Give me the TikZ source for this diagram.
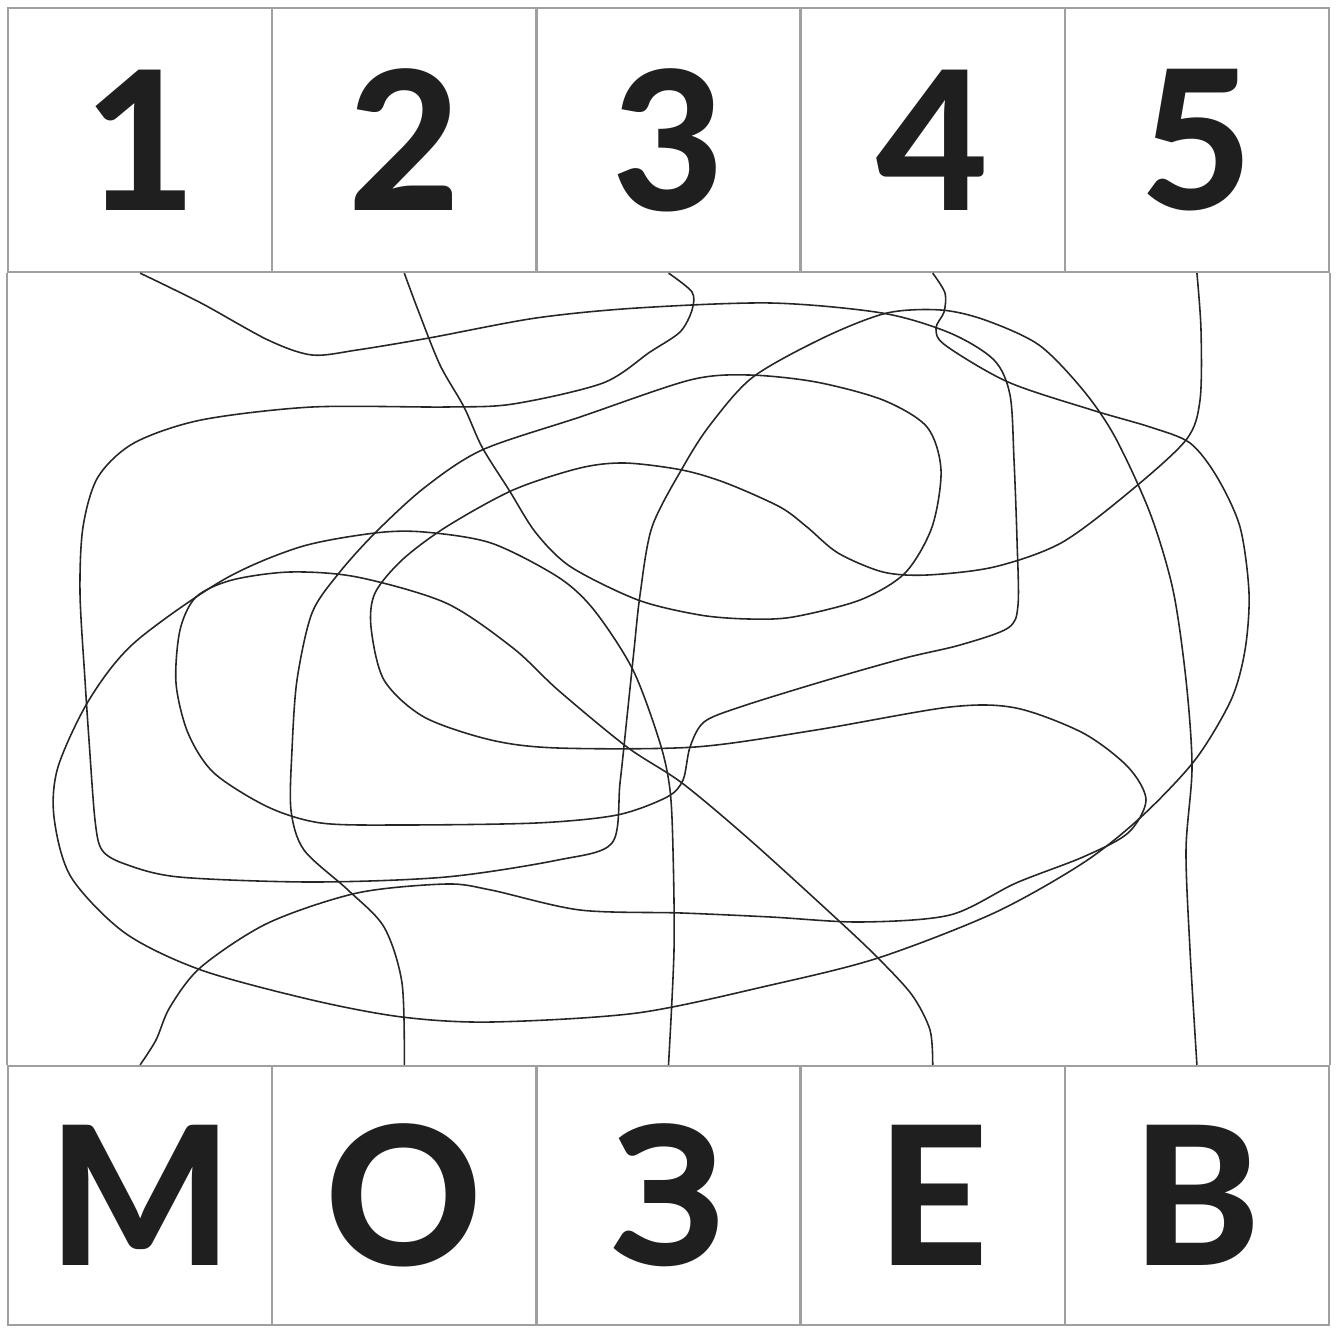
\documentclass[tikz,border=0pt]{standalone}
\usepackage{fontspec}
\setmainfont{Carlito}
\newfontfamily\heavyfont{Lato Heavy}
\usetikzlibrary{positioning}

\tikzset{
  cell/.style={draw=gray!75,line width=0.6pt,inner sep=0pt,minimum width=2.642cm,
    font=\fontsize{55}{60}\selectfont\heavyfont,text=black!88},
  wire/.style={black!85,line width=0.45pt}
}

\begin{document}
\begin{tikzpicture}[x=0.01cm,y=-0.01cm]
\useasboundingbox (0,0) rectangle (1337,1327);
% cells, top row numbers and bottom row letters
\foreach \i/\num/\ltr in {1/1/М,2/2/О,3/3/З,4/4/Е,5/5/В}{
  \node[cell,minimum height=2.64cm] (t\i) at ({8+132.1+264.2*(\i-1)},140) {\num};
  \node[cell,minimum height=2.59cm] (b\i) at ({8+132.1+264.2*(\i-1)},1195.5) {\ltr};
}
\draw[draw=gray!75,line width=0.6pt] (t1.south west) -- (b1.north west) (t5.south east) -- (b5.north east);
% 1 -> E
\draw[wire] plot[smooth] coordinates {(t1.south) (201,303) (268,340) (312,355) (357,350) (429,338) (536,318) (637,308) (771,303) (882,313) (950,333) (994,360) (1010,395) (1014,460) (1017,540) (1018,605) (1008,628) (960,645) (905,658) (824,681) (740,707) (704,722) (690,747) (683,780) (667,797) (617,815) (536,823) (400,825) (321,823) (268,807) (214,773) (188,733) (176,683) (180,630) (196,597) (232,580) (290,572) (357,577) (446,603) (513,648) (558,690) (627,747) (682,783) (750,840) (838,920) (878,958) (912,995) (930,1030) (b4.north)};
% 2 -> O
\draw[wire] plot[smooth] coordinates {(t2.south) (418,310) (440,365) (464,407) (482,447) (509,490) (536,533) (571,567) (638,600) (700,615) (749,619) (793,617) (860,600) (905,573) (932,527) (941,470) (927,427) (883,400) (816,382) (749,375) (690,380) (580,417) (482,450) (424,488) (375,533) (339,573) (312,613) (297,680) (292,750) (291,810) (304,850) (348,890) (384,927) (402,983) (b2.north)};
% 3 -> B
\draw[wire] plot[smooth] coordinates {(t3.south) (692,292) (692,310) (680,332) (650,352) (603,383) (513,404) (446,407) (312,407) (201,420) (134,443) (98,477) (83,527) (80,593) (85,680) (89,740) (95,820) (102,850) (125,864) (179,877) (312,882) (446,877) (558,860) (612,843) (620,783) (627,717) (634,650) (640,595) (652,527) (683,467) (710,425) (753,377) (825,337) (887,313) (941,310) (985,320) (1039,345) (1083,390) (1115,437) (1150,513) (1173,590) (1186,680) (1192,767) (1186,850) (1190,950) (b5.north)};
% 4 -> Z
\draw[wire] plot[smooth] coordinates {(t4.south) (945,293) (944,312) (936,328) (945,345) (1008,382) (1092,410) (1150,427) (1190,443) (1217,477) (1240,527) (1249,593) (1245,650) (1231,700) (1195,760) (1141,817) (1083,863) (994,913) (878,958) (771,985) (637,1013) (491,1022) (402,1017) (312,1000) (201,970) (125,933) (71,877) (54,817) (58,767) (89,700) (134,643) (223,580) (300,547) (375,533) (424,532) (491,543) (558,577) (594,610) (633,670) (660,743) (670,790) (673,850) (674,950) (b3.north)};
% 5 -> M
\draw[wire] plot[smooth] coordinates {(t5.south) (1201,330) (1200,400) (1186,440) (1128,493) (1061,543) (994,567) (927,575) (883,572) (838,553) (807,527) (780,507) (726,483) (682,470) (625,463) (580,468) (513,490) (446,527) (402,560) (375,593) (371,627) (384,680) (424,717) (491,740) (558,748) (695,747) (816,730) (950,707) (1016,708) (1083,733) (1128,767) (1146,800) (1128,833) (1083,857) (1016,883) (950,915) (860,922) (771,917) (682,913) (580,910) (491,890) (446,884) (357,893) (268,923) (201,967) (170,1007) (156,1040) (b1.north)};
\end{tikzpicture}
\end{document}
